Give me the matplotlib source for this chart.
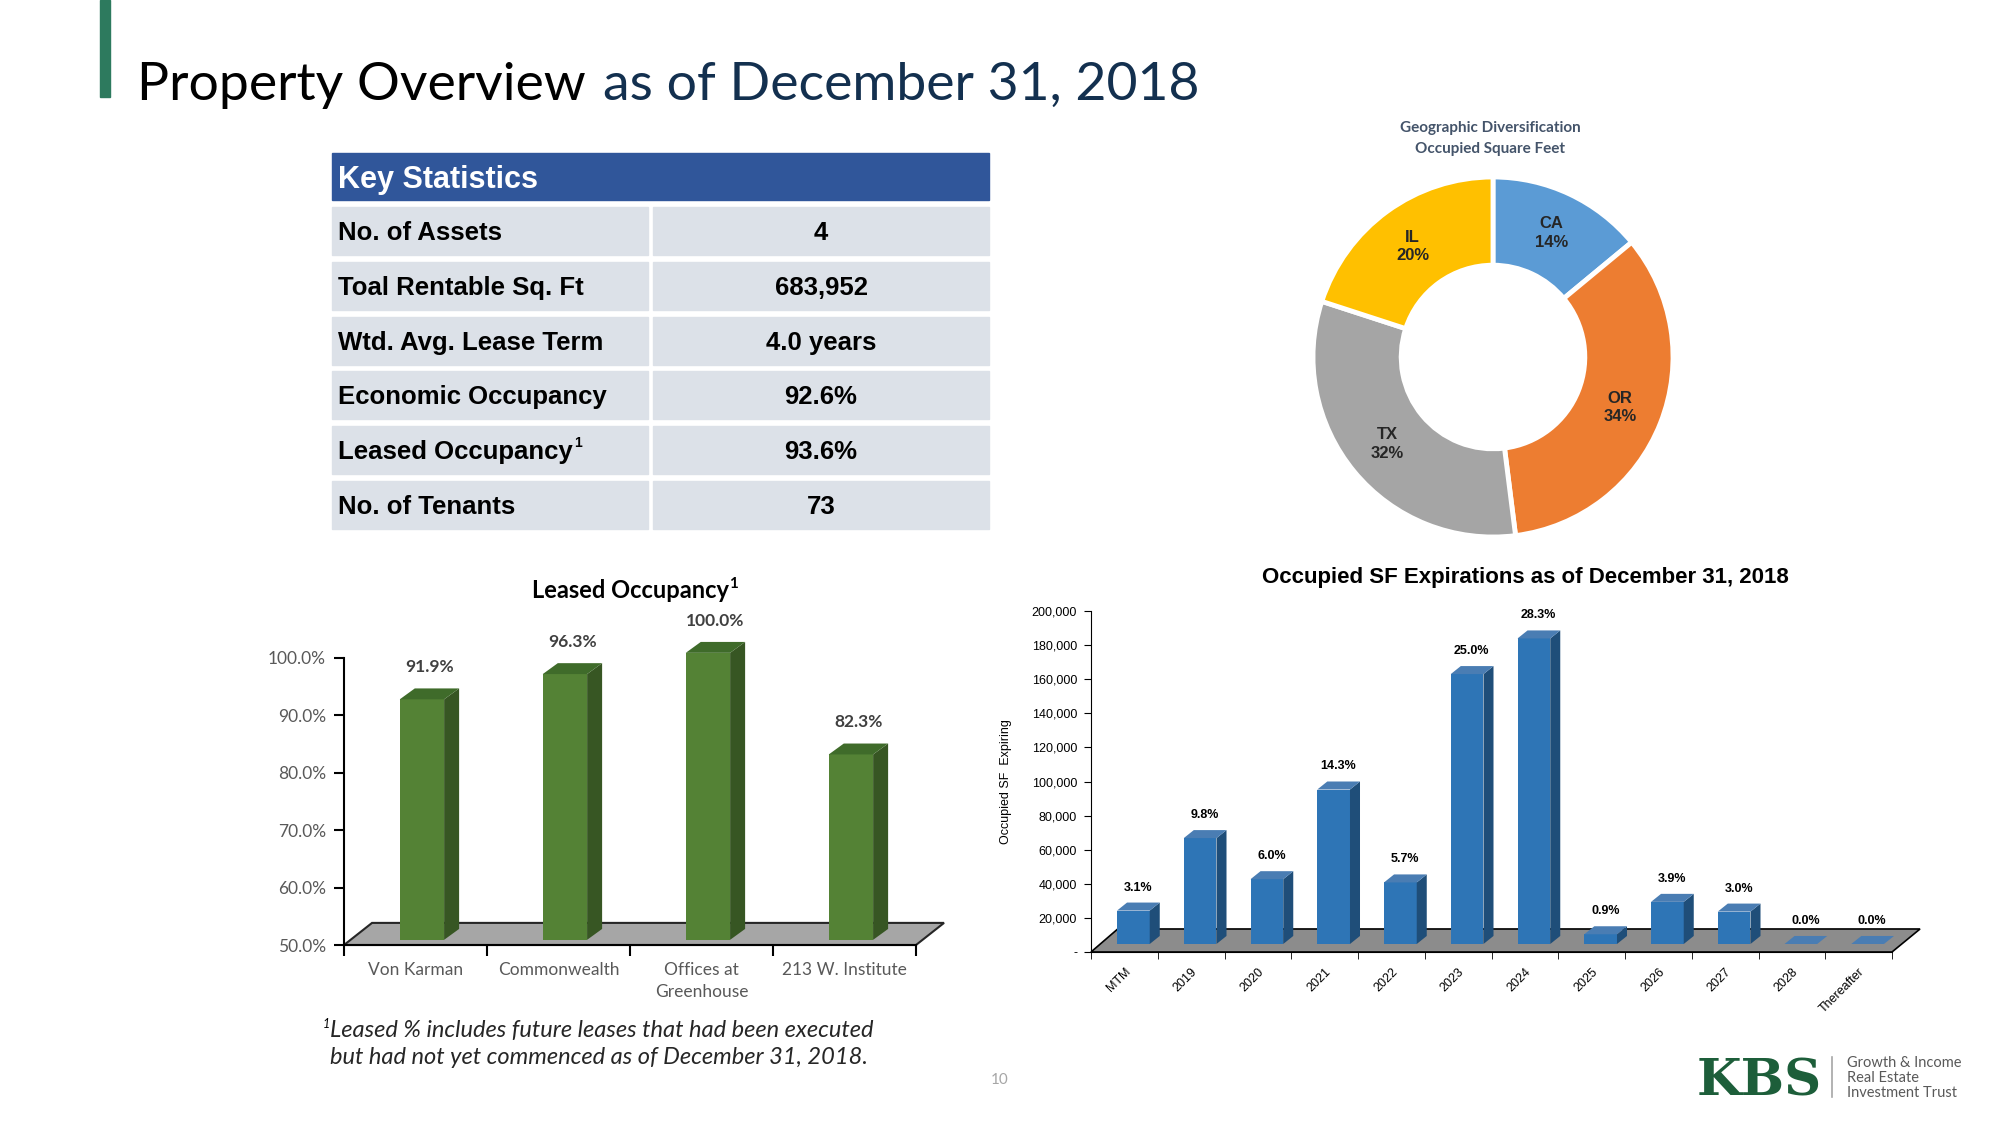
import matplotlib.pyplot as plt
from matplotlib.patches import Rectangle, Polygon
from matplotlib.ticker import FuncFormatter
import numpy as np

W, H = 2000, 1125

# key statistics table
stat_names = ['No. of Assets', 'Toal Rentable Sq. Ft', 'Wtd. Avg. Lease Term',
              'Economic Occupancy', 'Leased Occupancy', 'No. of Tenants']
stat_values = ['4', '683,952', '4.0 years', '92.6%', '93.6%', '73']

# geographic diversification (occupied sq ft)
geo_states = ['CA', 'OR', 'TX', 'IL']
geo_shares = [14, 34, 32, 20]
geo_colors = ['#5B9BD5', '#ED7D31', '#A5A5A5', '#FFC000']

# leased occupancy by property
properties = ['Von Karman', 'Commonwealth', 'Offices at\nGreenhouse', '213 W. Institute']
leased_pct = [91.9, 96.3, 100.0, 82.3]

# occupied sf expirations
exp_years = ['MTM', '2019', '2020', '2021', '2022', '2023', '2024',
             '2025', '2026', '2027', '2028', 'Thereafter']
exp_sf = [19600, 62100, 38000, 90600, 36100, 158300, 179200,
          5700, 24700, 19000, 0, 0]
exp_pct = [3.1, 9.8, 6.0, 14.3, 5.7, 25.0, 28.3, 0.9, 3.9, 3.0, 0.0, 0.0]

SANS = 'Lato'
ARIAL = 'Liberation Sans'
NARROW = ['Liberation Sans Narrow', 'Liberation Sans']


def box(x0, y0, x1, y1):
    return [x0 / W, 1 - y1 / H, (x1 - x0) / W, (y1 - y0) / H]


def ftext(x, y, s, **kw):
    return fig.text(x / W, 1 - y / H, s, **kw)


def add_3d(ax, bars, dx, dy, side, top):
    # side and top faces from each bar rectangle
    for b in bars:
        x0, y0, w, h = b.get_x(), b.get_y(), b.get_width(), b.get_height()
        ax.add_patch(Polygon([(x0 + w, y0), (x0 + w + dx, y0 + dy),
                              (x0 + w + dx, y0 + h + dy), (x0 + w, y0 + h)],
                             closed=True, fc=side, ec='none', zorder=3, clip_on=False))
        ax.add_patch(Polygon([(x0, y0 + h), (x0 + w, y0 + h),
                              (x0 + w + dx, y0 + h + dy), (x0 + dx, y0 + h + dy)],
                             closed=True, fc=top, ec='none', zorder=3, clip_on=False))


fig = plt.figure(figsize=(W / 100, H / 100), dpi=100)
fig.patch.set_facecolor('white')

page = fig.add_axes([0, 0, 1, 1])
page.set_xlim(0, W)
page.set_ylim(H, 0)
page.axis('off')

# title
page.add_patch(Rectangle((100, 0), 10, 97, color='#2D7A5E'))
r = fig.canvas.get_renderer()
t1 = ftext(137, 100, 'Property Overview', fontsize=38.5, family=SANS,
           color='black', va='baseline')
bb = t1.get_window_extent(renderer=r)
fig.text((bb.x1 + 17) / W, 1 - 100 / H, 'as of December 31, 2018', fontsize=38.5, family=SANS,
         color='#13304F', va='baseline')

# key statistics table
page.add_patch(Rectangle((332, 153), 657, 47, color='#30569A'))
page.text(338, 180, 'Key Statistics', color='white', fontsize=22, fontweight='bold',
          family=ARIAL, va='center')
for i, (name, val) in enumerate(zip(stat_names, stat_values)):
    top = 207 + i * 54.8
    page.add_patch(Rectangle((332, top), 316, 48, color='#DCE1E8'))
    page.add_patch(Rectangle((653, top), 336, 48, color='#DCE1E8'))
    t = page.text(338, top + 26, name, fontsize=18.5, fontweight='bold', family=ARIAL,
                  va='center', color='black')
    if name == 'Leased Occupancy':
        page.annotate('1', xy=(1, 1), xycoords=t, xytext=(1, 3), textcoords='offset points',
                      fontsize=10, fontweight='bold', family=ARIAL, va='top')
    page.text(821, top + 26, val, fontsize=18.5, fontweight='bold', family=ARIAL,
              va='center', ha='center', color='black')

# donut
axd = fig.add_axes(box(1293, 157, 1693, 557))
wedges, _ = axd.pie(geo_shares, colors=geo_colors, startangle=90, counterclock=False,
                    radius=1, wedgeprops=dict(width=0.49, edgecolor='white', linewidth=3.5))
axd.set_xlim(-1.111, 1.111)
axd.set_ylim(-1.111, 1.111)
for wdg, st, sh in zip(wedges, geo_states, geo_shares):
    ang = np.deg2rad((wdg.theta1 + wdg.theta2) / 2)
    axd.text(0.76 * np.cos(ang), 0.76 * np.sin(ang), f'{st}\n{sh}%', ha='center', va='center',
             fontsize=12, fontweight='bold', family=ARIAL, color='#262626', linespacing=1.3)
ftext(1490, 128, 'Geographic Diversification', ha='center', va='center', fontsize=11,
      fontweight='bold', family=SANS, color='#44546A')
ftext(1490, 149, 'Occupied Square Feet', ha='center', va='center', fontsize=11,
      fontweight='bold', family=SANS, color='#44546A')

# leased occupancy chart
ax1 = fig.add_axes(box(344, 658, 916, 945))
ax1.set_facecolor('none')
x1 = np.arange(len(properties))
ax1.set_xlim(-0.5, len(properties) - 0.5)
ax1.set_ylim(50, 100)
fdx, fdy = 0.196, 3.85
ax1.add_patch(Polygon([(-0.5, 50), (3.5, 50), (3.5 + fdx, 50 + fdy), (-0.5 + fdx, 50 + fdy)],
                      closed=True, fc='#A6A6A6', ec='#262626', lw=1.5, zorder=1, clip_on=False))
bars1 = ax1.bar(x1 + 0.045, np.array(leased_pct) - 50, bottom=50.9, width=0.31,
                color='#548235', zorder=3, clip_on=False)
add_3d(ax1, bars1, 0.105, 1.9, '#375623', '#3F6B2A')
for b, v in zip(bars1, leased_pct):
    ax1.text(b.get_x() + b.get_width() / 2 + 0.05, b.get_y() + b.get_height() + 5.6,
             f'{v:.1f}%', ha='center', va='center', fontsize=12.5, fontweight='bold',
             family=SANS, color='#404040', clip_on=False)
ax1.set_yticks(np.arange(50, 101, 10))
ax1.yaxis.set_major_formatter(FuncFormatter(lambda v, p: f'{v:.1f}%'))
ax1.set_xticks(x1)
ax1.set_xticklabels(properties, fontsize=12.5, family=SANS, color='#595959', linespacing=1.5)
ax1.set_xticks(np.arange(-0.5, len(properties), 1), minor=True)
ax1.tick_params(axis='x', which='major', length=0, pad=12)
ax1.tick_params(axis='x', which='minor', length=8, width=1.5, direction='out')
ax1.tick_params(axis='y', length=7, width=1.5, direction='out', labelsize=12.5,
                labelcolor='#595959', pad=6)
for lab in ax1.get_yticklabels():
    lab.set_family(SANS)
for s in ['top', 'right']:
    ax1.spines[s].set_visible(False)
for s in ['left', 'bottom']:
    ax1.spines[s].set_linewidth(1.5)
t = ftext(630, 590, 'Leased Occupancy', ha='center', va='center', fontsize=17,
          fontweight='bold', family=SANS, color='black')
page.annotate('1', xy=(1, 1), xycoords=t, xytext=(0.5, 1), textcoords='offset points',
              fontsize=11, fontweight='bold', family=SANS, va='top')

# footnote
ftext(323, 1024, '1', fontsize=9, style='italic', family=SANS, va='center')
ftext(330, 1031, 'Leased % includes future leases that had been executed', fontsize=17,
      style='italic', family=SANS, va='center', color='#262626')
ftext(330, 1058, 'but had not yet commenced as of December 31, 2018.', fontsize=17,
      style='italic', family=SANS, va='center', color='#262626')

# expirations chart
ax2 = fig.add_axes(box(1091, 611, 1892, 952))
ax2.set_facecolor('none')
xe = np.arange(len(exp_years))
ax2.set_xlim(-0.5, len(exp_years) - 0.5)
ax2.set_ylim(0, 200000)
n = len(exp_years)
ax2.add_patch(Polygon([(-0.5, 0), (n - 0.5, 0), (n - 0.5 + 0.42, 13500), (-0.5 + 0.40, 13500)],
                      closed=True, fc='#8C8C8C', ec='black', lw=1.2, zorder=1, clip_on=False))
bars2 = ax2.bar(xe + 0.135, exp_sf, bottom=4700, width=0.49, color='#2E75B6',
                zorder=3, clip_on=False)
add_3d(ax2, bars2, 0.15, 4700, '#1F4E79', '#4A7DB3')
for b, p in zip(bars2, exp_pct):
    ax2.text(b.get_x() + b.get_width() / 2 + 0.07, b.get_y() + b.get_height() + 13500,
             f'{p:.1f}%', ha='center', va='center', fontsize=9, fontweight='bold',
             family=NARROW, color='black', clip_on=False)
ax2.set_yticks(np.arange(0, 200001, 20000))
ax2.yaxis.set_major_formatter(FuncFormatter(lambda v, p: '-' if v == 0 else f'{v:,.0f}'))
ax2.tick_params(axis='y', length=5, direction='out', labelsize=9, pad=5)
for lab in ax2.get_yticklabels():
    lab.set_family(NARROW)
ax2.set_xticks(xe)
ax2.set_xticklabels(exp_years, rotation=45, ha='right', rotation_mode='anchor',
                    fontsize=9, family=ARIAL)
ax2.set_xticks(np.arange(-0.5, n, 1), minor=True)
ax2.tick_params(axis='x', which='major', length=0, pad=10)
ax2.tick_params(axis='x', which='minor', length=5, direction='out')
for s in ['top', 'right']:
    ax2.spines[s].set_visible(False)
ax2.set_ylabel('Occupied SF  Expiring', fontsize=9, family=ARIAL, labelpad=14)
ftext(1525, 578, 'Occupied SF Expirations as of December 31, 2018', ha='center', va='center',
      fontsize=16, fontweight='bold', family=NARROW, color='black')

# page number and logo
ftext(1000, 1080, '10', ha='center', va='center', fontsize=11, family=SANS, color='#A6A6A6')
ftext(1697, 1095, 'KBS', fontsize=37, fontweight='bold', family='DejaVu Serif',
      color='#1D5E3A', va='baseline')
page.plot([1832, 1832], [1057, 1097], color='#A6A6A6', lw=1.2)
for k, line in enumerate(['Growth & Income', 'Real Estate', 'Investment Trust']):
    ftext(1847, 1063 + k * 15, line, fontsize=10.5, family=SANS, color='#595959', va='center')

fig.savefig('out.png', dpi=100, facecolor='white')
